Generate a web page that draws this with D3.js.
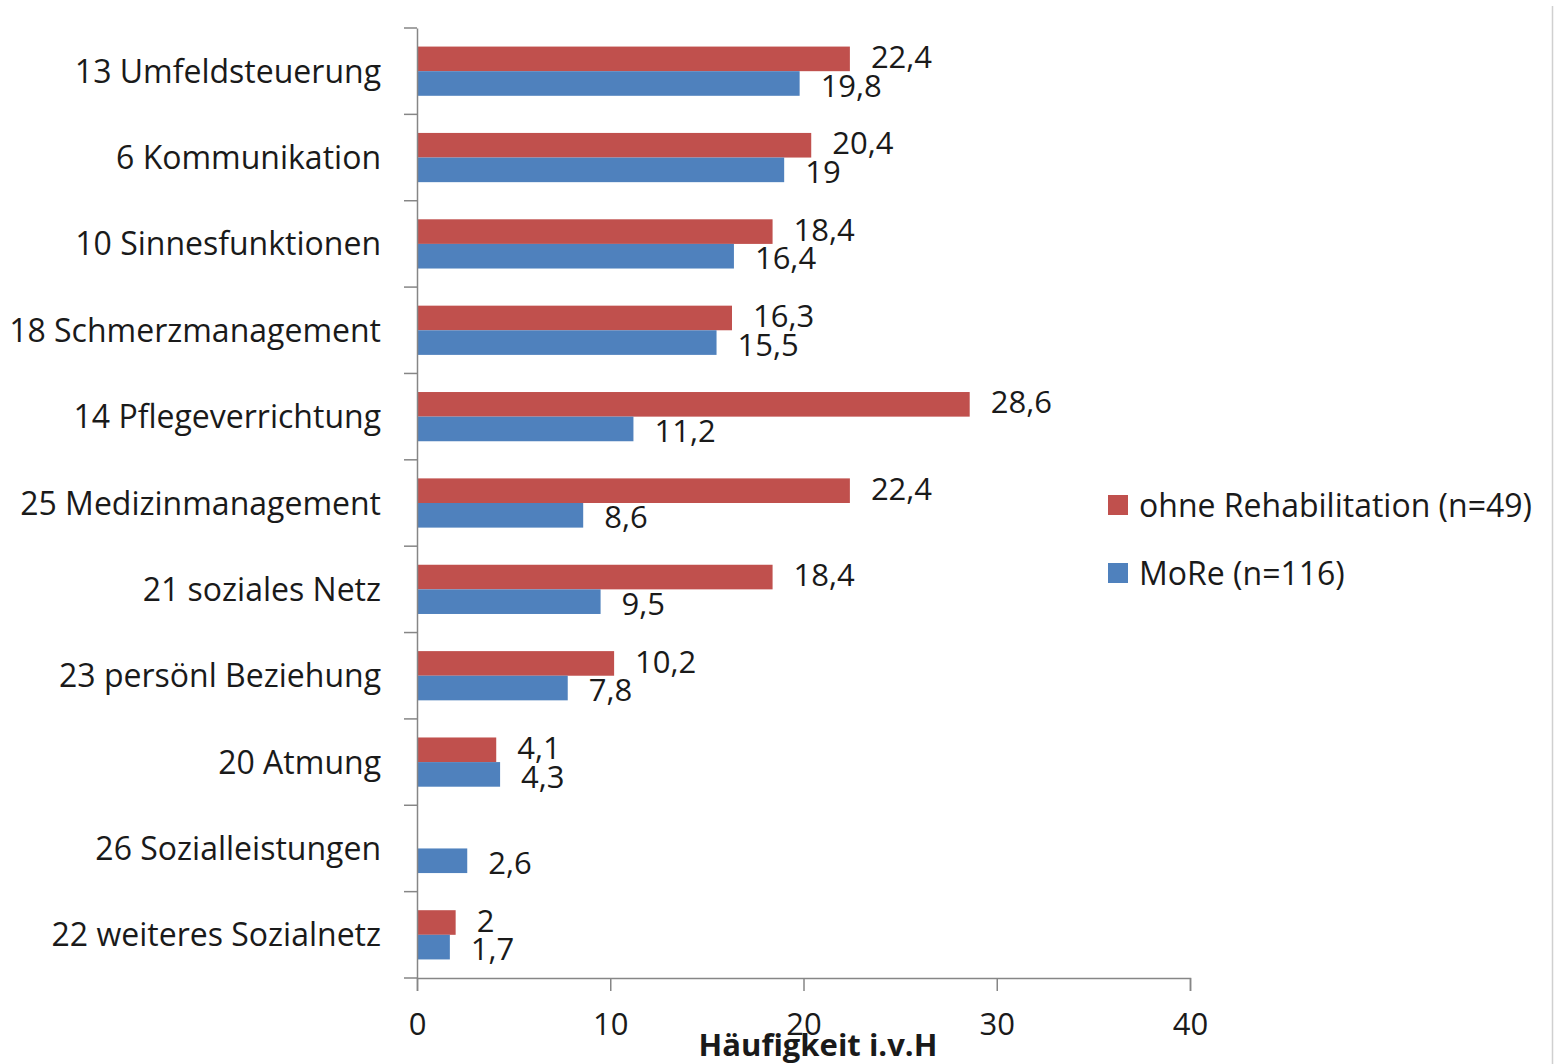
<!DOCTYPE html>
<html>
<head>
<meta charset="utf-8">
<script src="https://cdn.jsdelivr.net/npm/d3@7"></script>
<style>
  body { margin: 0; background: #fff; }
  svg text { font-family: "Open Sans", "Noto Sans", sans-serif; fill: #1a1a1a; }
</style>
</head>
<body>
<div id="chart"></div>
<script>
// ---------- Data ----------
const categories = [
  "13 Umfeldsteuerung",
  "6 Kommunikation",
  "10 Sinnesfunktionen",
  "18 Schmerzmanagement",
  "14 Pflegeverrichtung",
  "25 Medizinmanagement",
  "21 soziales Netz",
  "23 persönl Beziehung",
  "20 Atmung",
  "26 Sozialleistungen",
  "22 weiteres Sozialnetz"
];
const ohneValues = [22.4, 20.4, 18.4, 16.3, 28.6, 22.4, 18.4, 10.2, 4.1, null, 2];
const moreValues = [19.8, 19, 16.4, 15.5, 11.2, 8.6, 9.5, 7.8, 4.3, 2.6, 1.7];
const xTicks = [0, 10, 20, 30, 40];
const seriesNames = ["ohne Rehabilitation (n=49)", "MoRe (n=116)"];
const colors = ["#C0504D", "#4F81BD"];

// ---------- Layout ----------
const width = 1556, height = 1064;
const margin = { top: 28, left: 417, right: 366, bottom: 86 };
const innerW = width - margin.left - margin.right;
const innerH = height - margin.top - margin.bottom;
const fontSize = "31px";

const svg = d3.select("#chart").append("svg")
  .attr("width", width)
  .attr("height", height);

// right border line
svg.append("line")
  .attr("x1", 1552.5).attr("x2", 1552.5)
  .attr("y1", 6).attr("y2", height)
  .attr("stroke", "#d0d0d0").attr("stroke-width", 1.5);

const g = svg.append("g").attr("transform", `translate(${margin.left},${margin.top})`);

const x = d3.scaleLinear().domain([0, 40]).range([0, innerW]);
const y = d3.scaleBand().domain(categories).range([0, innerH]);
const barH = y.bandwidth() * 0.285;

// ---------- Bars ----------
const fmt = v => String(v).replace(".", ",");

categories.forEach((c, i) => {
  const cy = y(c) + y.bandwidth() / 2;
  [ohneValues[i], moreValues[i]].forEach((v, s) => {
    if (v == null) return;
    const top = s === 0 ? cy - barH : cy;
    g.append("rect")
      .attr("x", x(0))
      .attr("y", top)
      .attr("width", x(v) - x(0))
      .attr("height", barH)
      .attr("fill", colors[s]);
    g.append("text")
      .attr("x", x(v) + 21)
      .attr("y", top + barH / 2 + (s === 0 ? -2 : 2))
      .attr("dy", "0.36em")
      .style("font-size", fontSize)
      .text(fmt(v));
  });
});

// ---------- Axes ----------
const axisColor = "#868686";

const yAxis = g.append("g")
  .call(d3.axisLeft(y).tickSize(0).tickFormat(""));
yAxis.select(".domain").attr("stroke", axisColor).attr("stroke-width", 1.5);
// category boundary ticks
g.append("g").selectAll("line")
  .data(d3.range(categories.length + 1))
  .join("line")
  .attr("x1", -13).attr("x2", 0)
  .attr("y1", i => i * y.step()).attr("y2", i => i * y.step())
  .attr("stroke", axisColor).attr("stroke-width", 1.5);

g.append("g").selectAll("text")
  .data(categories)
  .join("text")
  .attr("x", -36)
  .attr("y", d => y(d) + y.bandwidth() / 2)
  .attr("dy", "0.36em")
  .attr("text-anchor", "end")
  .style("font-size", "32px")
  .text(d => d);

const xAxis = g.append("g")
  .attr("transform", `translate(0,${innerH})`)
  .call(d3.axisBottom(x).tickValues(xTicks).tickSize(13).tickPadding(22).tickFormat(d => d));
xAxis.select(".domain").attr("stroke", axisColor).attr("stroke-width", 1.5);
xAxis.selectAll(".tick line").attr("stroke", axisColor).attr("stroke-width", 1.5);
xAxis.selectAll(".tick text")
  .style("font-size", fontSize)
  .style("font-family", "'Open Sans', 'Noto Sans', sans-serif")
  .attr("fill", "#1a1a1a");

svg.append("text")
  .attr("x", 818)
  .attr("y", 1045)
  .attr("dy", "0.36em")
  .attr("text-anchor", "middle")
  .style("font-size", fontSize)
  .style("font-weight", "bold")
  .text("Häufigkeit i.v.H");

// ---------- Legend ----------
const legend = svg.append("g").attr("transform", "translate(1108,495)");
seriesNames.forEach((n, i) => {
  const row = legend.append("g").attr("transform", `translate(0,${i * 68})`);
  row.append("rect").attr("width", 20).attr("height", 20).attr("fill", colors[i]);
  row.append("text")
    .attr("x", 31).attr("y", 10).attr("dy", "0.36em")
    .style("font-size", "32px")
    .text(n);
});
</script>
</body>
</html>
